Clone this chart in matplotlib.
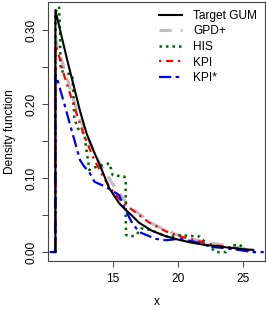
import matplotlib
matplotlib.use("Agg")
import matplotlib.pyplot as plt

plt.rcParams['font.family'] = ['Liberation Sans', 'DejaVu Sans']

# Target GUM (black solid)
gum_x = [10.6, 10.6, 11.0, 11.5, 12.0, 12.5, 13.0, 13.5, 14.0, 14.75, 15.5, 16.0, 16.5, 17.0,
         18.0, 19.0, 20.0, 21.0, 22.0, 23.0, 24.0, 25.0, 25.8]
gum_y = [0.0, 0.327, 0.297, 0.26, 0.225, 0.19, 0.16, 0.138, 0.118, 0.086, 0.066, 0.057, 0.049, 0.04,
         0.029, 0.022, 0.017, 0.013, 0.010, 0.008, 0.006, 0.004, 0.003]

# GPD+ (gray dashed)
gpd_x = [10.6, 10.6, 10.8, 11.5, 12.0, 12.5, 13.0, 14.0, 15.0, 16.0, 17.0, 18.0, 19.0, 20.0,
         21.0, 22.0, 23.0, 24.0, 25.0, 25.8]
gpd_y = [0.0, 0.29, 0.275, 0.235, 0.205, 0.18, 0.158, 0.12, 0.092, 0.068, 0.052, 0.039, 0.03, 0.023,
         0.018, 0.014, 0.011, 0.008, 0.005, 0.003]

# HIS (green dotted)
his_x = [10.6, 10.6, 10.88, 10.95, 11.0, 11.9, 11.98, 12.05, 12.44, 12.82, 12.95, 13.08, 13.2,
         13.7, 14.75, 15.0, 15.9, 16.0, 16.0, 16.03, 16.4, 16.8, 17.2, 17.9, 18.6, 19.3, 20.1,
         21.7, 22.05, 22.3, 22.95, 23.7, 24.1, 24.75, 25.1, 25.4]
his_y = [0.0, 0.325, 0.332, 0.30, 0.245, 0.239, 0.215, 0.18, 0.163, 0.161, 0.142, 0.127, 0.111,
         0.115, 0.12, 0.104, 0.102, 0.095, 0.046, 0.023, 0.021, 0.023, 0.032, 0.03, 0.025, 0.02, 0.023,
         0.021, 0.014, 0.009, 0.0, 0.0, 0.009, 0.01, 0.005, 0.0]

# KPI (red dot-dash)
kpi_x = [10.6, 10.6, 10.8, 11.3, 11.8, 12.4, 12.8, 13.5, 14.2, 14.75, 15.5, 16.5, 17.8, 19.1,
         20.0, 21.3, 22.9, 23.85, 25.1, 25.8]
kpi_y = [0.0, 0.28, 0.27, 0.237, 0.21, 0.178, 0.158, 0.128, 0.104, 0.088, 0.072, 0.057, 0.04, 0.028,
         0.022, 0.016, 0.009, 0.007, 0.003, 0.001]

# KPI* (blue two-dash)
kpis_x = [10.15, 10.6, 10.6, 10.77, 11.35, 12.0, 12.5, 12.8, 13.2, 13.6, 14.5, 15.5, 15.9, 16.5,
          17.05, 18.3, 19.1, 20.1, 21.3, 22.6, 23.85, 25.8, 26.6]
kpis_y = [0.0, 0.0, 0.24, 0.232, 0.196, 0.155, 0.124, 0.116, 0.108, 0.095, 0.088, 0.077, 0.06, 0.039,
          0.027, 0.018, 0.016, 0.018, 0.014, 0.007, 0.005, 0.0, 0.0]

labels = ["Target GUM", "GPD+", "HIS", "KPI", "KPI*"]
xticks = [15, 20, 25]
yticks = [0.0, 0.05, 0.10, 0.15, 0.20, 0.25, 0.30]
yticklabels = ["0.00", "", "0.10", "", "0.20", "", "0.30"]

FS = 8.6

fig = plt.figure(figsize=(2.66, 3.10), dpi=100)
ax = fig.add_axes([48/266, 49/310, (265-48)/266, (308-49)/310])

ax.plot(gpd_x, gpd_y, color='#bebebe', lw=2.2, dashes=(4, 3), label=labels[1], zorder=2)
ax.plot(his_x, his_y, color='#006400', lw=1.8, dashes=(1, 1.6), label=labels[2], zorder=3)
ax.plot(kpi_x, kpi_y, color='red', lw=1.6, dashes=(1, 2.2, 3.2, 2.2), label=labels[3], zorder=4)
ax.plot(kpis_x, kpis_y, color='blue', lw=1.6, dashes=(5.5, 2, 1.6, 2), label=labels[4], zorder=4)
ax.plot(gum_x, gum_y, color='black', lw=1.5, label=labels[0], zorder=5)

ax.set_xlim(10.03, 26.7)
ax.set_ylim(-0.012, 0.338)
ax.set_xticks(xticks)
ax.set_xticklabels([str(t) for t in xticks])
ax.set_yticks(yticks)
ax.set_yticklabels(yticklabels, rotation=90, va='center')
ax.tick_params(labelsize=FS, length=4.5, width=0.7, color='#444444')
ax.tick_params(axis='x', pad=4)
ax.tick_params(axis='y', pad=3)
for s in ax.spines.values():
    s.set_linewidth(0.8)
    s.set_color('#444444')

ax.set_xlabel('x', fontsize=FS, labelpad=8)
ax.set_ylabel('Density function', fontsize=FS, labelpad=7)

handles, labs = ax.get_legend_handles_labels()
order = [labs.index(l) for l in labels]
ax.legend([handles[i] for i in order], [labs[i] for i in order], loc='upper right',
          frameon=False, fontsize=FS, handlelength=2.0, handletextpad=0.9,
          labelspacing=0.3, borderaxespad=0.25, bbox_to_anchor=(1.0, 1.0))

fig.savefig('out.png', dpi=100)
